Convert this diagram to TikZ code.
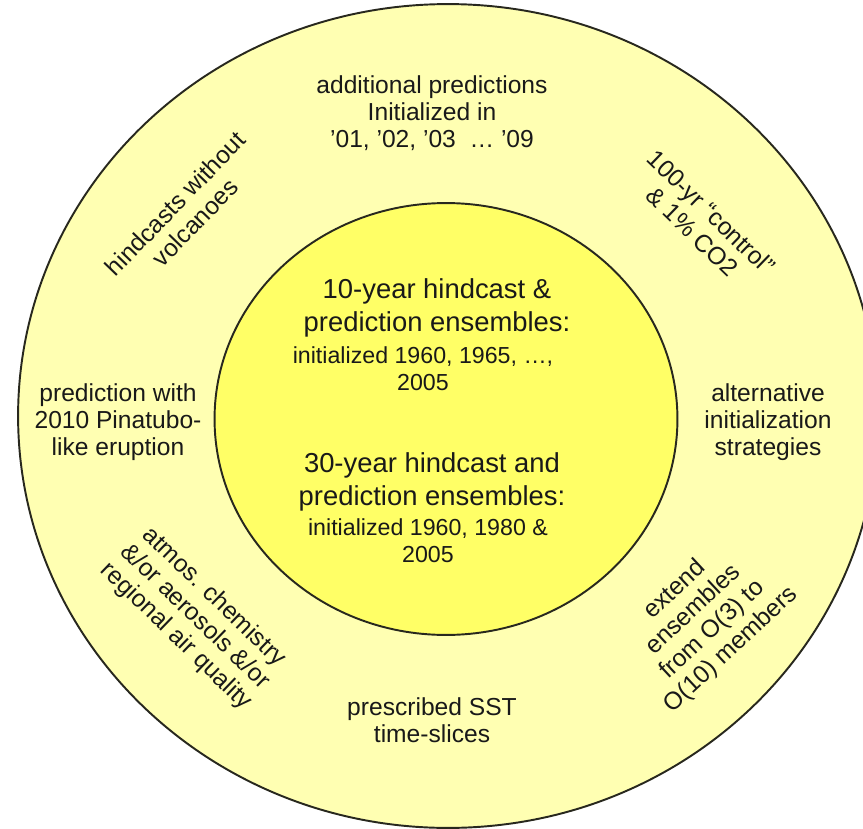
\documentclass[tikz,border=0pt]{standalone}
\usepackage{fontspec}
\setmainfont{Liberation Sans}

\definecolor{ringfill}{RGB}{255, 255, 178}
\definecolor{corefill}{RGB}{255, 255, 102}
\definecolor{edgecol}{RGB}{40, 40, 30}
\definecolor{textcol}{RGB}{25, 25, 25}

\tikzset{
  ringlabel/.style={align=center, text=textcol, inner sep=0pt,
    font=\fontsize{14}{15.5}\selectfont},
  corehead/.style={align=center, text=textcol, inner sep=0pt,
    font=\fontsize{15.6}{18.6}\selectfont},
  coredetail/.style={align=center, text=textcol, inner sep=0pt,
    font=\fontsize{13.2}{15.4}\selectfont}
}

\begin{document}
\begin{tikzpicture}[x=0.02cm, y=-0.02cm]
    \useasboundingbox (0,0) rectangle (863,829);
    \clip (0,0) rectangle (863,829);

    % Centres of the two rings
    \coordinate (c-outer) at (448,416);
    \coordinate (c-inner) at (446,419);

    % Outer ring and inner disc
    \filldraw[fill=ringfill, draw=edgecol, line width=1.1pt]
        (c-outer) ellipse [x radius=8.6cm, y radius=8.24cm];
    \filldraw[fill=corefill, draw=edgecol, line width=1.1pt]
        (c-inner) ellipse [x radius=4.63cm, y radius=4.32cm];

    % Inner disc texts
    \node[corehead] (head10) at (437,308) {10-year hindcast \&\\prediction ensembles:};
    \node[coredetail] (det10) at (423,369) {initialized 1960, 1965, …,\\2005};
    \node[corehead] (head30) at (432,482) {30-year hindcast and\\prediction ensembles:};
    \node[coredetail] (det30) at (428,541) {initialized 1960, 1980 \&\\2005};

    % Outer ring texts, clockwise from the top
    \node[ringlabel] (addpred) at (432,113)
        {additional predictions\\Initialized in\\’01, ’02, ’03 \ … ’09};
    \node[ringlabel, rotate=-44] (control) at (702,222)
        {100-yr “control”\\\& 1\% CO2};
    \node[ringlabel] (altinit) at (768,422)
        {alternative\\initialization\\strategies};
    \node[ringlabel, rotate=43] (extend) at (703,620)
        {extend\\ensembles\\from O(3) to\\O(10) members};
    \node[ringlabel] (sst) at (432,720)
        {prescribed SST\\time-slices};
    \node[ringlabel, rotate=-44] (atmos) at (195,617)
        {atmos. chemistry\\\&/or aerosols \&/or\\regional air quality};
    \node[ringlabel] (pinatubo) at (118,422)
        {prediction with\\2010 Pinatubo-\\like eruption};
    \node[ringlabel, rotate=46] (novolc) at (185,213)
        {hindcasts without\\volcanoes};

\end{tikzpicture}
\end{document}
